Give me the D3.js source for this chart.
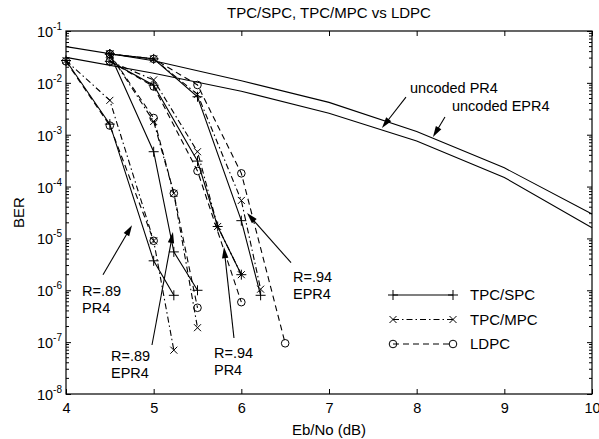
<!DOCTYPE html>
<html>
<head>
<meta charset="utf-8">
<script src="https://cdn.jsdelivr.net/npm/d3@7"></script>
<style>
    body { margin: 0; background: #fff; }
</style>
</head>
<body>
<div id="chart"></div>
<script>
// uncoded channels
var uncodedEbNo = [4, 5, 6, 7, 8, 9, 10];
var uncodedPR4 = [0.031, 0.0153, 0.0069, 0.0026, 7.6e-4, 1.5e-4, 1.6e-5];
var uncodedEPR4 = [0.050, 0.0267, 0.011, 0.0042, 1.15e-3, 2.3e-4, 2.95e-5];

// R=.89 PR4
var spc89pr4 = [[4, 0.027], [4.5, 1.6e-3], [5, 3.7e-6], [5.23, 8e-7]];
var mpc89pr4 = [[4, 0.027], [4.5, 4.6e-3], [5, 9e-6], [5.23, 7e-8]];
var ldpc89pr4 = [[4, 0.026], [4.5, 1.5e-3], [5, 9e-6]];
// R=.89 EPR4
var spc89epr4 = [[4.5, 0.036], [5, 4.7e-4], [5.23, 5.5e-6], [5.5, 1e-6]];
var mpc89epr4 = [[4.5, 0.036], [5, 1.8e-3], [5.23, 7.4e-5], [5.5, 1.9e-7]];
var ldpc89epr4 = [[4.5, 0.036], [5, 2.1e-3], [5.23, 7.4e-5], [5.5, 4.6e-7]];
// R=.94 PR4
var spc94pr4 = [[4.5, 0.026], [5, 9e-3], [5.5, 3.1e-4], [5.73, 1.7e-5], [6, 2e-6]];
var mpc94pr4 = [[4.5, 0.026], [5, 0.0114], [5.5, 4.7e-4], [5.73, 1.7e-5], [6, 2e-6]];
var ldpc94pr4 = [[4.5, 0.026], [5, 8.5e-3], [5.5, 2e-4], [6, 5.9e-7]];
// R=.94 EPR4
var spc94epr4 = [[4.5, 0.036], [5, 0.029], [5.5, 5.4e-3], [6, 2.2e-5], [6.22, 8e-7]];
var mpc94epr4 = [[4.5, 0.036], [5, 0.029], [5.5, 6e-3], [6, 5.4e-5], [6.22, 1.05e-6]];
var ldpc94epr4 = [[4.5, 0.036], [5, 0.029], [5.5, 9.1e-3], [6, 1.8e-4], [6.5, 9.5e-8]];

var xTicks = [4, 5, 6, 7, 8, 9, 10];
var yExps = [-8, -7, -6, -5, -4, -3, -2, -1];
var legendNames = ['TPC/SPC', 'TPC/MPC', 'LDPC'];

// annotations: text lines, text anchor (data), arrow from/to (data)
var notes = [
    { lines: ['uncoded PR4'], at: [7.924, 6.4e-3], from: [7.878, 5.3e-3], to: [7.604, 1.35e-3] },
    { lines: ['uncoded EPR4'], at: [8.403, 2.9e-3], from: [8.323, 2.2e-3], to: [8.186, 9.0e-4] },
    { lines: ['R=.89', 'PR4'], at: [4.183, 7.8e-7], from: [4.422, 2.0e-6], to: [4.753, 1.8e-5] },
    { lines: ['R=.89', 'EPR4'], at: [4.513, 4.3e-8], from: [4.981, 8.8e-8], to: [5.220, 1.33e-5] },
    { lines: ['R=.94', 'PR4'], at: [5.688, 4.9e-8], from: [5.916, 1.2e-7], to: [5.802, 6.8e-6] },
    { lines: ['R=.94', 'EPR4'], at: [6.589, 1.45e-6], from: [6.567, 3.4e-6], to: [6.065, 3.1e-5] }
];

(function () {
    var W = 599, H = 439,
        m = { l: 66, r: 7, t: 31, b: 45 },
        font = '"Liberation Sans", Arial, Helvetica, sans-serif';

    var svg = d3.select('#chart').append('svg')
        .attr('width', W).attr('height', H)
        .style('font-family', font);

    svg.append('rect').attr('width', W).attr('height', H).attr('fill', '#fff');

    var x = d3.scaleLinear().domain([4, 10]).range([m.l, W - m.r]);
    var y = d3.scaleLog().domain([1e-8, 1e-1]).range([H - m.b, m.t]);

    var styles = {
        spc: { dash: null, marker: 'plus' },
        mpc: { dash: '6,3,1.5,3', marker: 'cross' },
        ldpc: { dash: '6,4', marker: 'circle' }
    };

    var series = [
        { d: spc89pr4, s: 'spc' }, { d: mpc89pr4, s: 'mpc' }, { d: ldpc89pr4, s: 'ldpc' },
        { d: spc89epr4, s: 'spc' }, { d: mpc89epr4, s: 'mpc' }, { d: ldpc89epr4, s: 'ldpc' },
        { d: spc94pr4, s: 'spc' }, { d: mpc94pr4, s: 'mpc' }, { d: ldpc94pr4, s: 'ldpc' },
        { d: spc94epr4, s: 'spc' }, { d: mpc94epr4, s: 'mpc' }, { d: ldpc94epr4, s: 'ldpc' }
    ];

    // axes box
    var g = svg.append('g');
    g.append('rect')
        .attr('x', m.l).attr('y', m.t)
        .attr('width', W - m.l - m.r).attr('height', H - m.t - m.b)
        .attr('fill', 'none').attr('stroke', '#000').attr('stroke-width', 1.2);

    // x ticks bottom and top (inward)
    var xb = g.append('g').attr('transform', 'translate(0,' + (H - m.b) + ')')
        .call(d3.axisBottom(x).tickValues(xTicks).tickSize(-5).tickSizeOuter(0).tickPadding(9)
            .tickFormat(d3.format('d')));
    var xt = g.append('g').attr('transform', 'translate(0,' + m.t + ')')
        .call(d3.axisTop(x).tickValues(xTicks).tickSize(-5).tickSizeOuter(0).tickFormat(''));
    [xb, xt].forEach(function (a) {
        a.select('.domain').remove();
        a.selectAll('line').attr('stroke', '#000');
        a.selectAll('text').attr('fill', '#000').style('font-size', '14.5px').style('font-family', font);
    });

    // y ticks left and right (inward)
    var decades = yExps.map(function (e) { return Math.pow(10, e); });
    var yl = g.append('g').attr('transform', 'translate(' + m.l + ',0)')
        .call(d3.axisLeft(y).tickValues(decades).tickSize(-5).tickSizeOuter(0).tickFormat(''));
    var yr = g.append('g').attr('transform', 'translate(' + (W - m.r) + ',0)')
        .call(d3.axisRight(y).tickValues(decades).tickSize(-5).tickSizeOuter(0).tickFormat(''));
    [yl, yr].forEach(function (a) {
        a.select('.domain').remove();
        a.selectAll('line').attr('stroke', '#000');
    });

    // minor ticks
    var minors = [];
    yExps.slice(0, -1).forEach(function (e) {
        for (var k = 2; k <= 9; k++) minors.push(k * Math.pow(10, e));
    });
    g.selectAll('.minorL').data(minors).enter().append('line')
        .attr('x1', m.l).attr('x2', m.l + 3)
        .attr('y1', function (d) { return y(d); }).attr('y2', function (d) { return y(d); })
        .attr('stroke', '#000');
    g.selectAll('.minorR').data(minors).enter().append('line')
        .attr('x1', W - m.r).attr('x2', W - m.r - 3)
        .attr('y1', function (d) { return y(d); }).attr('y2', function (d) { return y(d); })
        .attr('stroke', '#000');

    // y tick labels 10^e
    var lab = g.selectAll('.ylab').data(yExps).enter().append('text')
        .attr('x', m.l - 4)
        .attr('y', function (e) { return y(Math.pow(10, e)) + 6; })
        .attr('text-anchor', 'end')
        .style('font-size', '14.5px');
    lab.append('tspan').text('10');
    lab.append('tspan').attr('dy', -7).style('font-size', '10px').text(function (e) { return '-' + (-e); });

    // titles
    svg.append('text').attr('x', (m.l + W - m.r) / 2).attr('y', 18)
        .attr('text-anchor', 'middle').style('font-size', '15px')
        .text('TPC/SPC, TPC/MPC vs LDPC');
    svg.append('text').attr('x', (m.l + W - m.r) / 2).attr('y', 435)
        .attr('text-anchor', 'middle').style('font-size', '15px')
        .text('Eb/No (dB)');
    svg.append('text')
        .attr('transform', 'translate(24,' + ((m.t + H - m.b) / 2) + ')rotate(-90)')
        .attr('text-anchor', 'middle').style('font-size', '15px')
        .text('BER');

    var line = d3.line().x(function (d) { return x(d[0]); }).y(function (d) { return y(d[1]); });

    // uncoded curves
    [uncodedPR4, uncodedEPR4].forEach(function (vals) {
        g.append('path')
            .datum(uncodedEbNo.map(function (e, i) { return [e, vals[i]]; }))
            .attr('d', line).attr('fill', 'none').attr('stroke', '#000').attr('stroke-width', 1.1);
    });

    function marker(sel, type, cx, cy) {
        if (type === 'plus') {
            sel.append('path').attr('d', 'M' + (cx - 5) + ',' + cy + 'h10M' + cx + ',' + (cy - 5) + 'v10')
                .attr('stroke', '#000').attr('fill', 'none');
        } else if (type === 'cross') {
            sel.append('path').attr('d', 'M' + (cx - 3.5) + ',' + (cy - 3.5) + 'l7,7M' + (cx - 3.5) + ',' + (cy + 3.5) + 'l7,-7')
                .attr('stroke', '#000').attr('fill', 'none');
        } else {
            sel.append('circle').attr('cx', cx).attr('cy', cy).attr('r', 3.8)
                .attr('stroke', '#000').attr('fill', 'none');
        }
    }

    // coded curves
    series.forEach(function (sr) {
        var st = styles[sr.s];
        g.append('path').datum(sr.d).attr('d', line)
            .attr('fill', 'none').attr('stroke', '#000').attr('stroke-width', 1.1)
            .attr('stroke-dasharray', st.dash);
        sr.d.forEach(function (p) { marker(g, st.marker, x(p[0]), y(p[1])); });
    });

    // annotations
    notes.forEach(function (n) {
        var t = svg.append('text').attr('x', x(n.at[0])).attr('y', y(n.at[1])).style('font-size', '14.5px');
        n.lines.forEach(function (s, i) {
            t.append('tspan').attr('x', x(n.at[0])).attr('dy', i ? 17 : 0).text(s);
        });
        var x1 = x(n.from[0]), y1 = y(n.from[1]), x2 = x(n.to[0]), y2 = y(n.to[1]);
        var a = Math.atan2(y2 - y1, x2 - x1), L = 11, w = 3.2;
        svg.append('line').attr('x1', x1).attr('y1', y1)
            .attr('x2', x2 - Math.cos(a) * L * 0.8).attr('y2', y2 - Math.sin(a) * L * 0.8)
            .attr('stroke', '#000').attr('stroke-width', 1.1);
        var bx = x2 - Math.cos(a) * L, by = y2 - Math.sin(a) * L;
        svg.append('path')
            .attr('d', 'M' + x2 + ',' + y2 +
                'L' + (bx + Math.sin(a) * w) + ',' + (by - Math.cos(a) * w) +
                'L' + (bx - Math.sin(a) * w) + ',' + (by + Math.cos(a) * w) + 'Z')
            .attr('fill', '#000');
    });

    // legend
    var lg = svg.append('g').attr('transform', 'translate(393,295)');
    ['spc', 'mpc', 'ldpc'].forEach(function (k, i) {
        var yy = i * 24.5, st = styles[k];
        lg.append('line').attr('x1', 0).attr('x2', 60).attr('y1', yy).attr('y2', yy)
            .attr('stroke', '#000').attr('stroke-width', 1.1).attr('stroke-dasharray', st.dash);
        marker(lg, st.marker, 0, yy);
        marker(lg, st.marker, 60, yy);
        lg.append('text').attr('x', 77).attr('y', yy + 5).style('font-size', '15px').text(legendNames[i]);
    });
}());
</script>
</body>
</html>
